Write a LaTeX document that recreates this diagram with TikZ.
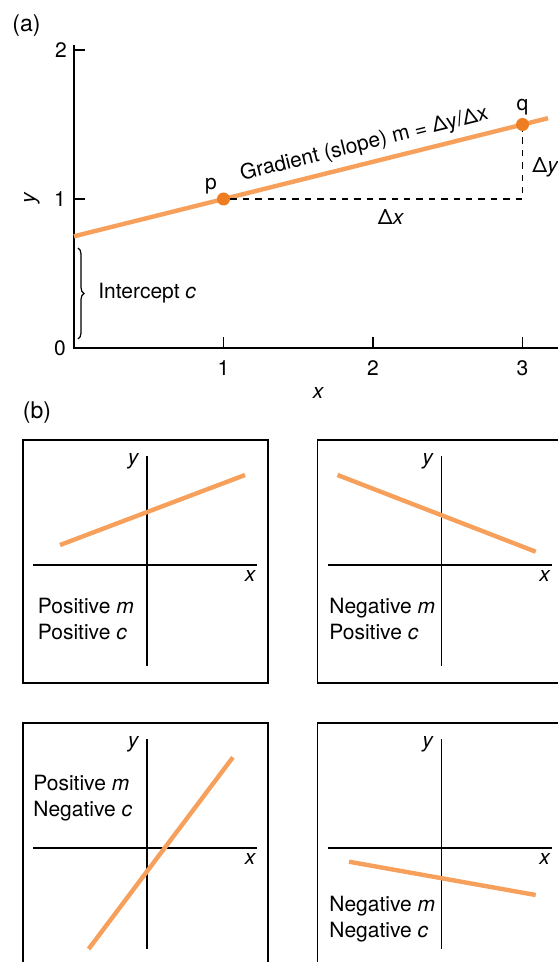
\documentclass[tikz,border=0pt]{standalone}
\usepackage{fontspec}
\setmainfont{TeX Gyre Heros}
\usepackage{tikz}
\usetikzlibrary{positioning,calc,decorations.pathreplacing}

\definecolor{lineorange}{RGB}{246,160,92}
\definecolor{dotorange}{RGB}{238,125,34}

\begin{document}
\begin{tikzpicture}[x=0.5pt, y=-0.5pt,
    every node/.style={font=\fontsize{10.5}{13}\selectfont},
    axis/.style={line width=0.65pt},
    frame/.style={line width=0.8pt},
    fitline/.style={line width=2.2pt, lineorange},
    ptdot/.style={circle, fill=dotorange, inner sep=0pt, minimum size=6.5pt},
    lbl/.style={font=\fontsize{10.5}{13}\selectfont\itshape},
    partlab/.style={font=\fontsize{11.5}{14}\selectfont},
    caseinfo/.style={anchor=west, inner sep=0pt, align=left}]

  \useasboundingbox (0,0) rectangle (557,962);

  %% ─── (a) straight line y = mx + c ───────────────────────────────────────
  \node[partlab] (lab_a) at (26.5,26) {(a)};

  \draw[axis] (74,45) -- (74,348) -- (570,348);
  \draw[axis] (74,50) -- (85,50);
  \draw[axis] (74,199) -- (85,199);
  \node (yt0) at (60,348) {0};
  \node (yt1) at (60,199) {1};
  \node (yt2) at (61,50) {2};
  \foreach \i/\xx in {1/223.5, 2/373, 3/522.5} {
    \draw[axis] (\xx,348) -- (\xx,337);
    \node (xt\i) at (\xx,368) {\i};
  }
  \node[lbl] (xname) at (318,393) {x};
  \node[lbl, rotate=90] (yname) at (32,198) {y};

  \coordinate (c0) at (74,236.3);
  \coordinate (lend) at (548,118.2);
  \coordinate (corner) at (522.5,199);

  \draw[fitline] (c0) -- node[pos=0.622, sloped, above, text=black]
      {Gradient (slope) m = Δy/Δx} (lend);

  \node[ptdot] (p) at (223.5,199) {};
  \node[ptdot] (q) at (522.5,124.5) {};
  \node (plab) at (211,186) {p};
  \node (qlab) at (522.5,107) {q};

  %% rise and run
  \draw[line width=0.55pt, dash pattern=on 3.2pt off 3pt] (p) -- (corner) -- (q);
  \node (dx) at (391,217) {Δ\textit{x}};
  \node[anchor=west, inner sep=0pt] (dy) at (532,167) {Δ\textit{y}};

  %% intercept brace
  \draw[decorate, decoration={brace, amplitude=3pt}, line width=0.6pt]
      (78,248) -- (78,339);
  \node[anchor=west, inner sep=0pt] (icpt) at (98,293) {Intercept \textit{c}};

  %% ─── (b) the four sign cases ────────────────────────────────────────────
  \node[partlab] (lab_b) at (37,413) {(b)};

  \foreach \px/\py [count=\k] in {23/440, 317.5/440, 23/723, 317.5/723} {
    \begin{scope}[shift={(\px,\py)}]
      \draw[frame] (0,0) rectangle (245,243);
      \draw[axis] (124,16) -- (124,226);
      \draw[axis] (10,125) -- (234,125);
      \node[lbl] (ylab\k) at (110,21) {y};
      \node[lbl] (xlab\k) at (227,136) {x};
    \end{scope}
  }

  \draw[fitline] (60,545) -- (245,475);
  \node[caseinfo] (case1) at (37.5,619) {Positive \textit{m}\\Positive \textit{c}};

  \draw[fitline] (337.5,475) -- (535.7,551.7);
  \node[caseinfo] (case2) at (329,619) {Negative \textit{m}\\Positive \textit{c}};

  \draw[fitline] (88.6,949) -- (232.9,757.3);
  \node[caseinfo] (case3) at (33,798.5) {Positive \textit{m}\\Negative \textit{c}};

  \draw[fitline] (349,861.7) -- (535.7,895);
  \node[caseinfo] (case4) at (329,919) {Negative \textit{m}\\Negative \textit{c}};

\end{tikzpicture}
\end{document}
